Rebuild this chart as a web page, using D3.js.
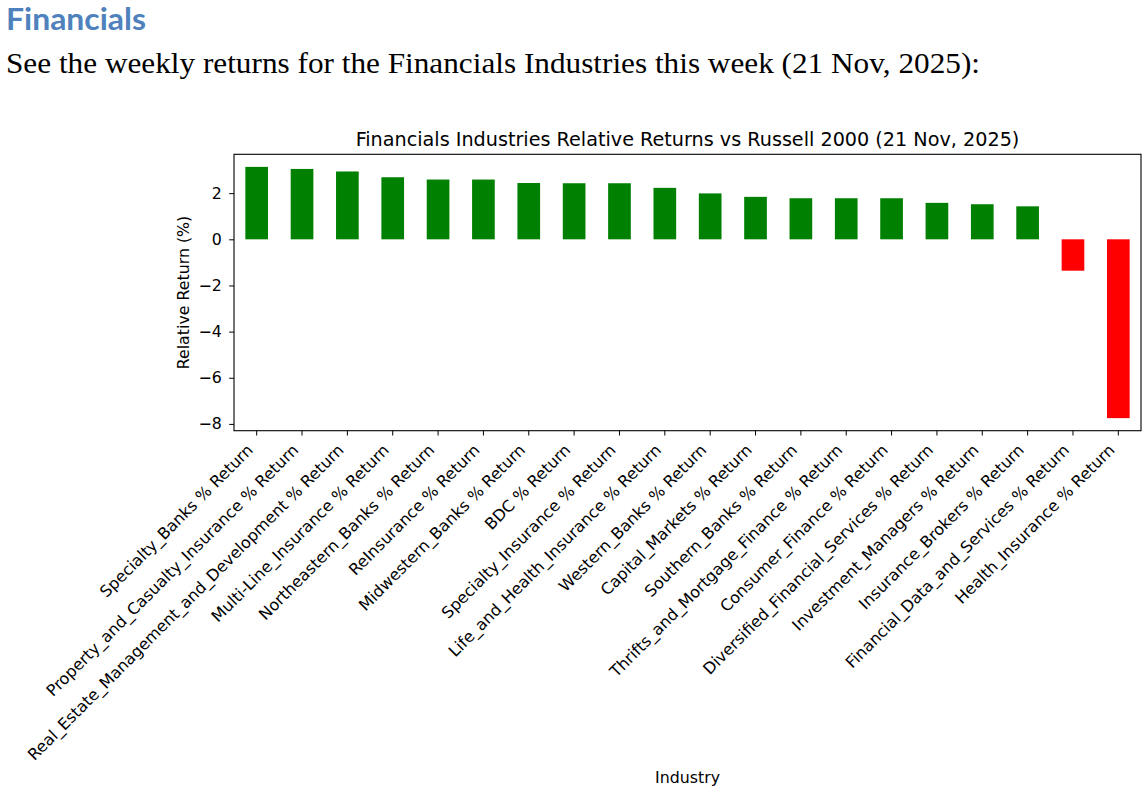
<!DOCTYPE html>
<html><head><meta charset="utf-8">
<script src="https://cdn.jsdelivr.net/npm/d3@7"></script>
<style>body{margin:0;background:#fff} svg{display:block}</style>
</head><body>
<svg id="c" width="1148" height="800"></svg>
<script>
const heading = "Financials";
const subtitle = "See the weekly returns for the Financials Industries this week (21 Nov, 2025):";
const chartTitle = "Financials Industries Relative Returns vs Russell 2000 (21 Nov, 2025)";
const xTitle = "Industry";
const yTitle = "Relative Return (%)";
const industries = [
  "Specialty_Banks % Return",
  "Property_and_Casualty_Insurance % Return",
  "Real_Estate_Management_and_Development % Return",
  "Multi-Line_Insurance % Return",
  "Northeastern_Banks % Return",
  "ReInsurance % Return",
  "Midwestern_Banks % Return",
  "BDC % Return",
  "Specialty_Insurance % Return",
  "Life_and_Health_Insurance % Return",
  "Western_Banks % Return",
  "Capital_Markets % Return",
  "Southern_Banks % Return",
  "Thrifts_and_Mortgage_Finance % Return",
  "Consumer_Finance % Return",
  "Diversified_Financial_Services % Return",
  "Investment_Managers % Return",
  "Insurance_Brokers % Return",
  "Financial_Data_and_Services % Return",
  "Health_Insurance % Return"
];
const returns = [3.14, 3.05, 2.94, 2.69, 2.59, 2.59, 2.44, 2.43, 2.43, 2.23, 1.99, 1.84, 1.78, 1.78, 1.78, 1.58, 1.52, 1.43, -1.36, -7.75];
const yTicks = [2, 0, -2, -4, -6, -8];

const svg = d3.select("#c");
const L = 234, R = 1141, T = 154.3, B = 430.7;
const tickLen = 4.8, fs = 15.8, xfs = 16;

// page header
svg.append("text").attr("x", 6).attr("y", 29.5)
  .attr("font-family", "Lato, 'Open Sans', sans-serif").attr("font-weight", 700)
  .attr("font-size", 29.5).attr("fill", "#4f81bd")
  .attr("textLength", 140).attr("lengthAdjust", "spacingAndGlyphs")
  .text(heading);
svg.append("text").attr("x", 6).attr("y", 73)
  .attr("font-family", "'Liberation Serif', 'DejaVu Serif', serif")
  .attr("font-size", 29).attr("fill", "#000")
  .attr("textLength", 974).attr("lengthAdjust", "spacingAndGlyphs")
  .text(subtitle);

const lo = d3.min(returns), hi = d3.max(returns), pad = (hi - lo) * 0.05;
const x = d3.scaleBand().domain(industries).range([L, R]).paddingInner(0.5).paddingOuter(0.25);
const y = d3.scaleLinear().domain([lo - pad, hi + pad]).range([B, T]);

const font = "'DejaVu Sans', sans-serif";

// bars
svg.append("g").selectAll("rect").data(industries).join("rect")
  .attr("x", d => x(d))
  .attr("width", x.bandwidth())
  .attr("y", (d, i) => y(Math.max(0, returns[i])))
  .attr("height", (d, i) => Math.abs(y(returns[i]) - y(0)))
  .attr("fill", (d, i) => returns[i] >= 0 ? "green" : "red");

// y axis
const yAxis = svg.append("g").attr("transform", `translate(${L},0)`)
  .call(d3.axisLeft(y).tickValues(yTicks).tickSize(tickLen).tickPadding(7.5).tickFormat(d3.format("d")));
yAxis.select(".domain").remove();
yAxis.selectAll("line").attr("stroke", "#000").attr("stroke-width", 1);
yAxis.selectAll("text").attr("font-family", font).attr("font-size", fs).attr("fill", "#000");

// x axis
const xAxis = svg.append("g").attr("transform", `translate(0,${B})`)
  .call(d3.axisBottom(x).tickSize(tickLen).tickSizeOuter(0));
xAxis.select(".domain").remove();
xAxis.selectAll("line").attr("stroke", "#000").attr("stroke-width", 1);
xAxis.selectAll("text")
  .attr("font-family", font).attr("font-size", xfs).attr("fill", "#000")
  .attr("text-anchor", "end")
  .attr("dy", null)
  .attr("y", null)
  .attr("transform", `translate(-2.7, ${tickLen + 5 + 10.5}) rotate(-45)`);

// frame
svg.append("rect").attr("x", L).attr("y", T).attr("width", R - L).attr("height", B - T)
  .attr("fill", "none").attr("stroke", "#000").attr("stroke-width", 1.1);

// titles
svg.append("text").attr("x", (L + R) / 2).attr("y", 145.5).attr("text-anchor", "middle")
  .attr("font-family", font).attr("font-size", 19.2).attr("fill", "#000").text(chartTitle);
svg.append("text").attr("x", (L + R) / 2).attr("y", 783).attr("text-anchor", "middle")
  .attr("font-family", font).attr("font-size", fs).attr("fill", "#000").text(xTitle);
svg.append("text").attr("transform", `translate(188.5,${(T + B) / 2}) rotate(-90)`).attr("text-anchor", "middle")
  .attr("font-family", font).attr("font-size", fs).attr("fill", "#000").text(yTitle);
</script>
</body></html>
